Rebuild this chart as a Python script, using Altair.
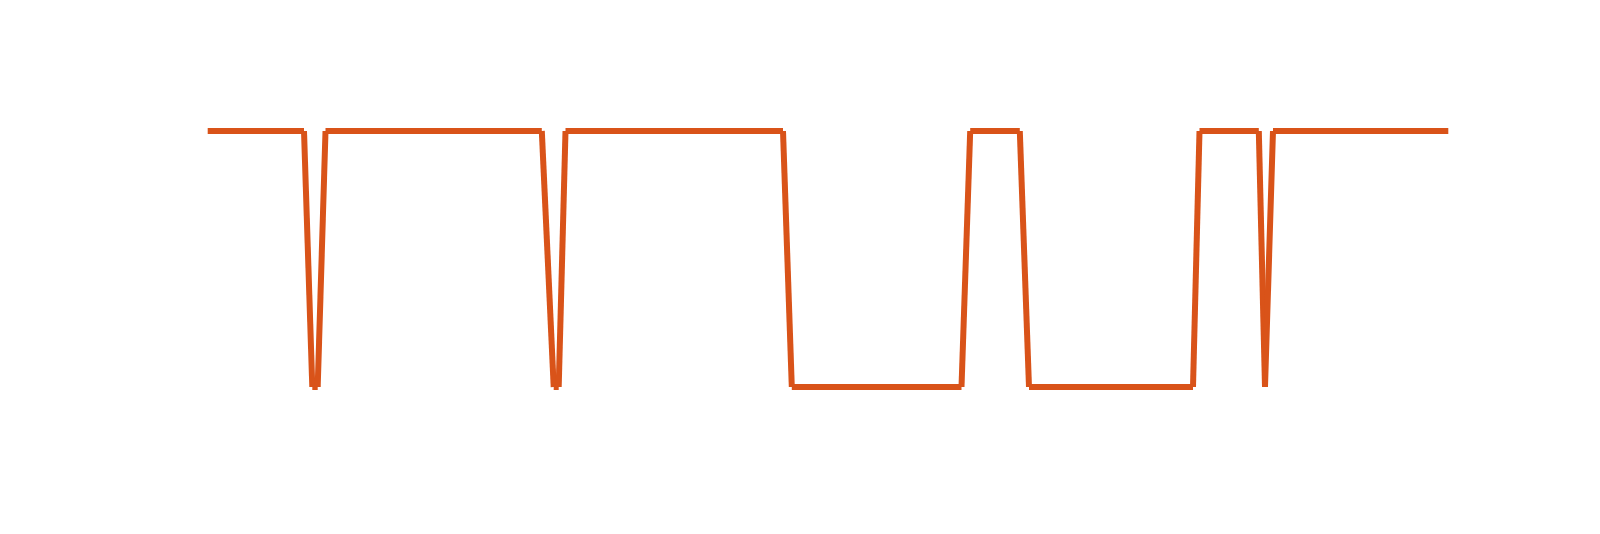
import altair as alt
import pandas as pd

# vertices of the signal (time, level)
t = [207.7, 304.0, 312.3, 317.7, 325.5, 541.8, 553.7, 558.7, 565.5, 783.0, 791.8,
     961.5, 970.2, 1019.8, 1029.0, 1193.0, 1199.5, 1258.8, 1265.0, 1273.0, 1448.3]
level = [1, 1, 0, 0, 1, 1, 0, 0, 1, 1, 0, 0, 1, 1, 0, 0, 1, 1, 0, 1, 1]

seg = pd.DataFrame({
    "t0": t[:-1], "t1": t[1:],
    "v0": level[:-1], "v1": level[1:],
})

xs = alt.Scale(domain=[min(t), max(t)], nice=False, zero=False)
ys = alt.Scale(domain=[0, 1], nice=False, zero=False)

chart = alt.Chart(seg).mark_rule(
    color="#D95319", strokeWidth=6, strokeCap="butt"
).encode(
    x=alt.X("t0:Q", scale=xs, axis=None),
    x2="t1:Q",
    y=alt.Y("v0:Q", scale=ys, axis=None),
    y2="v1:Q",
).properties(
    width=1240.6, height=256,
    background="white",
    autosize=alt.AutoSizeParams(type="none"),
    padding={"left": 207.7, "top": 131, "right": 151.7, "bottom": 147},
).configure_view(strokeWidth=0)

chart.save("out.html", embed_options={"renderer": "svg", "actions": False})
